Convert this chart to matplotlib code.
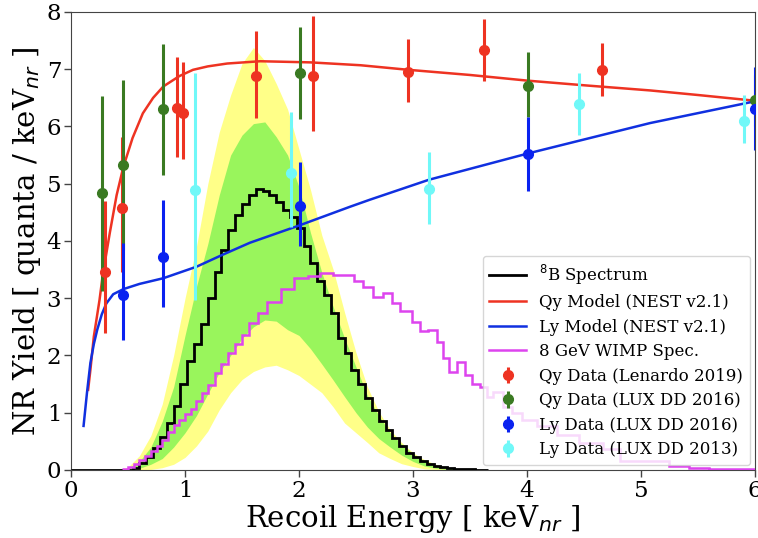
import numpy as np
import matplotlib
matplotlib.use('Agg')
import matplotlib.pyplot as plt

# 8B spectrum (step histogram, uniform bins)
b8_first_edge = 0.48
b8_bin_width = 0.06
b8_values = [0.0, 0.04, 0.12, 0.22, 0.38, 0.57, 0.82, 1.12, 1.5, 1.9, 2.2, 2.55,
             3.0, 3.45, 3.85, 4.2, 4.45, 4.65, 4.8, 4.9, 4.88, 4.8, 4.68, 4.55,
             4.42, 4.22, 3.92, 3.62, 3.3, 3.05, 2.75, 2.3, 2.05, 1.75, 1.5, 1.25,
             1.05, 0.85, 0.7, 0.56, 0.42, 0.3, 0.22, 0.15, 0.1, 0.07, 0.05, 0.035,
             0.02, 0.015, 0.01, 0.005, 0.0]

# 8 GeV WIMP spectrum (step histogram)
wimp_edges = [0.45, 0.50, 0.55, 0.60, 0.65, 0.70, 0.75, 0.80, 0.85, 0.90,
              0.95, 1.00, 1.05, 1.10, 1.15, 1.20, 1.26, 1.32, 1.38, 1.44,
              1.50, 1.56, 1.64, 1.72, 1.84, 1.96, 2.08, 2.18, 2.30, 2.48,
              2.56, 2.65, 2.74, 2.82, 2.89, 2.99, 3.06, 3.13, 3.21, 3.26,
              3.32, 3.39, 3.46, 3.52, 3.59, 3.65, 3.70, 3.79, 3.87, 3.96,
              4.09, 4.26, 4.46, 4.67, 4.82, 5.25, 5.42, 5.60, 5.82, 6.00]
wimp_values = [0.02, 0.05, 0.1, 0.17, 0.25, 0.33, 0.42, 0.52, 0.66, 0.78,
               0.87, 0.97, 1.07, 1.2, 1.35, 1.48, 1.7, 1.85, 2.05, 2.2,
               2.35, 2.57, 2.74, 2.94, 3.17, 3.35, 3.39, 3.44, 3.40, 3.30,
               3.2, 3.03, 3.09, 2.91, 2.77, 2.59, 2.42, 2.44, 2.24, 1.96,
               1.72, 1.89, 1.66, 1.5, 1.45, 1.28, 1.36, 1.1, 1.0, 0.87,
               0.77, 0.62, 0.47, 0.36, 0.16, 0.07, 0.04, 0.02, 0.01]

# uncertainty bands around the 8B spectrum
band_E = [0.4, 0.5, 0.6, 0.7, 0.8, 0.9, 1.0, 1.1, 1.2, 1.3, 1.4, 1.5, 1.6, 1.7,
          1.8, 1.9, 2.0, 2.1, 2.2, 2.3, 2.4, 2.5, 2.6, 2.7, 2.8, 2.9, 3.0, 3.1,
          3.2, 3.3, 3.4, 3.5, 3.6]
yellow_hi = [0.0, 0.05, 0.25, 0.6, 1.15, 2.0, 3.0, 3.9, 5.0, 5.9, 6.55, 7.1, 7.38,
             7.15, 6.75, 6.3, 5.6, 4.9, 4.1, 3.5, 2.75, 2.05, 1.45, 1.02, 0.7,
             0.48, 0.3, 0.18, 0.1, 0.05, 0.02, 0.005, 0.0]
green_hi = [0.0, 0.03, 0.15, 0.4, 0.85, 1.45, 2.35, 3.2, 3.95, 4.8, 5.5, 5.85, 6.05,
            6.08, 5.82, 5.5, 4.94, 4.15, 3.45, 2.85, 2.3, 1.8, 1.3, 0.95, 0.65,
            0.45, 0.28, 0.16, 0.09, 0.04, 0.015, 0.0, 0.0]
green_lo = [0.0, 0.0, 0.03, 0.1, 0.2, 0.4, 0.65, 0.95, 1.33, 1.7, 2.0, 2.3, 2.5,
            2.62, 2.6, 2.45, 2.35, 2.12, 1.85, 1.57, 1.28, 1.0, 0.75, 0.55, 0.4,
            0.26, 0.15, 0.07, 0.03, 0.01, 0.0, 0.0, 0.0]
yellow_lo = [0.0, 0.0, 0.0, 0.01, 0.04, 0.1, 0.22, 0.42, 0.68, 1.05, 1.35, 1.58, 1.72,
             1.8, 1.83, 1.75, 1.65, 1.5, 1.35, 1.1, 0.82, 0.65, 0.48, 0.3, 0.2,
             0.11, 0.06, 0.02, 0.01, 0.0, 0.0, 0.0, 0.0]

# NEST v2.1 models
qy_model_E = [0.15, 0.17, 0.20, 0.25, 0.28, 0.34, 0.40, 0.46, 0.54, 0.63, 0.72, 0.81,
              0.95, 1.07, 1.20, 1.37, 1.66, 2.10, 2.54, 2.96, 3.50, 4.01, 4.50, 5.08,
              5.50, 6.00]
qy_model_y = [1.4, 1.75, 2.33, 2.97, 3.43, 4.14, 4.8, 5.3, 5.8, 6.23, 6.5, 6.7,
              6.88, 6.99, 7.05, 7.1, 7.14, 7.12, 7.07, 6.99, 6.9, 6.8, 6.72, 6.63,
              6.55, 6.45]
ly_model_E = [0.11, 0.14, 0.17, 0.20, 0.23, 0.27, 0.31, 0.37, 0.46, 0.60, 0.81, 1.10,
              1.33, 1.57, 2.00, 2.45, 2.62, 3.14, 4.01, 5.08, 6.00]
ly_model_y = [0.77, 1.35, 1.87, 2.2, 2.45, 2.72, 2.91, 3.07, 3.16, 3.25, 3.35, 3.55,
              3.76, 3.97, 4.27, 4.6, 4.72, 5.07, 5.53, 6.06, 6.44]

# measurements: energy, value, lower edge, upper edge
qy_len_E = [0.30, 0.45, 0.93, 0.98, 1.62, 2.12, 2.96, 3.62, 4.66]
qy_len_y = [3.46, 4.57, 6.32, 6.23, 6.88, 6.88, 6.96, 7.33, 6.99]
qy_len_lo = [2.39, 3.46, 5.47, 5.43, 6.14, 5.92, 6.42, 6.80, 6.54]
qy_len_hi = [4.69, 5.82, 7.22, 7.13, 7.66, 7.93, 7.52, 7.88, 7.45]

qy_lux_E = [0.27, 0.46, 0.81, 2.01, 4.01, 6.00]
qy_lux_y = [4.83, 5.33, 6.30, 6.93, 6.71, 6.46]
qy_lux_lo = [3.12, 3.84, 5.15, 6.13, 6.17, 6.00]
qy_lux_hi = [6.53, 6.82, 7.44, 7.73, 7.30, 6.90]

ly16_E = [0.46, 0.81, 2.01, 4.01, 6.00]
ly16_y = [3.06, 3.72, 4.62, 5.52, 6.30]
ly16_lo = [2.27, 2.85, 3.91, 4.87, 5.59]
ly16_hi = [3.96, 4.72, 5.38, 6.17, 7.04]

ly13_E = [1.09, 1.93, 3.14, 4.46, 5.90]
ly13_y = [4.89, 5.19, 4.90, 6.39, 6.10]
ly13_lo = [2.97, 4.25, 4.29, 5.85, 5.72]
ly13_hi = [6.93, 6.26, 5.56, 6.93, 6.55]

RED = '#ee3322'
BLUE = '#1030e0'


def yerr(y, lo, hi):
    y = np.array(y)
    return [y - np.array(lo), np.array(hi) - y]


fig = plt.figure(figsize=(7.58, 5.38), dpi=100)
ax = fig.add_axes([0.0937, 0.1264, 0.9023, 0.8513])

ax.fill_between(band_E, yellow_lo, yellow_hi, color='#ffff88', lw=0, zorder=1)
ax.fill_between(band_E, green_lo, green_hi, color='#99f55c', lw=0, zorder=1.1)

b8_edges = b8_first_edge + b8_bin_width * np.arange(len(b8_values) + 1)
b8_edges = np.concatenate([[0.0], b8_edges])
b8_vals = np.concatenate([[0.0], b8_values])
ax.stairs(b8_vals, b8_edges, color='black', lw=2, zorder=3,
          label=r'$^{8}$B Spectrum', baseline=None)

ax.plot(qy_model_E, qy_model_y, color=RED, lw=1.8, zorder=4,
        label='Qy Model (NEST v2.1)')
ax.plot(ly_model_E, ly_model_y, color=BLUE, lw=1.8, zorder=4,
        label='Ly Model (NEST v2.1)')
ax.stairs(wimp_values, wimp_edges, color='#dd44ee', lw=1.8, zorder=3.5,
          label='8 GeV WIMP Spec.', baseline=None)

ekw = dict(fmt='o', ms=7, elinewidth=2.2, capsize=0, zorder=5)
ax.errorbar(qy_len_E, qy_len_y, yerr=yerr(qy_len_y, qy_len_lo, qy_len_hi),
            color=RED, label='Qy Data (Lenardo 2019)', **ekw)
ax.errorbar(qy_lux_E, qy_lux_y, yerr=yerr(qy_lux_y, qy_lux_lo, qy_lux_hi),
            color='#3a7a22', label='Qy Data (LUX DD 2016)', **ekw)
ax.errorbar(ly16_E, ly16_y, yerr=yerr(ly16_y, ly16_lo, ly16_hi),
            color='#0a22f0', label='Ly Data (LUX DD 2016)', **ekw)
ax.errorbar(ly13_E, ly13_y, yerr=yerr(ly13_y, ly13_lo, ly13_hi),
            color='#70f8f8', label='Ly Data (LUX DD 2013)', **ekw)

ax.set_xlim(0, 6)
ax.set_ylim(0, 8)

tick_font = dict(family='DejaVu Serif', size=16.5)
ax.set_xticks(range(0, 7))
ax.set_yticks(range(0, 9))
ax.set_xticklabels([str(v) for v in range(0, 7)], fontdict=tick_font)
ax.set_yticklabels([str(v) for v in range(0, 9)], fontdict=tick_font)
ax.tick_params(length=5, width=1, color='#444444', pad=2)
for s in ax.spines.values():
    s.set_color('#444444')

label_font = dict(family='DejaVu Serif', size=21)
ax.set_xlabel(r'Recoil Energy [ keV$_{nr}$ ]', fontdict=label_font, labelpad=1)
ax.set_ylabel(r'NR Yield [ quanta / keV$_{nr}$ ]', fontdict=label_font, labelpad=3)

handles, labels = ax.get_legend_handles_labels()
order = [r'$^{8}$B Spectrum', 'Qy Model (NEST v2.1)', 'Ly Model (NEST v2.1)',
         '8 GeV WIMP Spec.', 'Qy Data (Lenardo 2019)', 'Qy Data (LUX DD 2016)',
         'Ly Data (LUX DD 2016)', 'Ly Data (LUX DD 2013)']
hmap = dict(zip(labels, handles))
ax.legend([hmap[k] for k in order], order, loc='lower right',
          prop=dict(family='DejaVu Serif', size=12),
          framealpha=0.8, borderaxespad=0.3, labelspacing=0.45,
          handlelength=2.2)

fig.savefig('out.png', dpi=100)
